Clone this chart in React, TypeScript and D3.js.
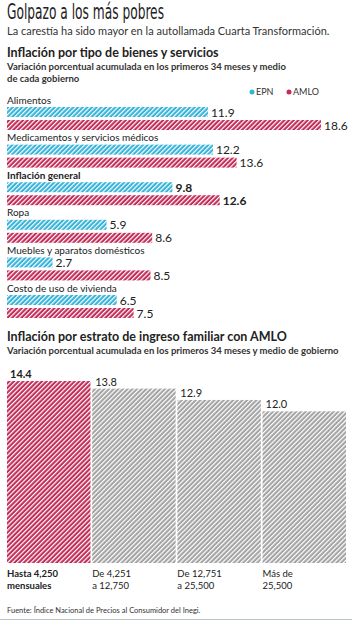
import * as d3 from "d3";

const categories = [
  "Alimentos",
  "Medicamentos y servicios médicos",
  "Inflación general",
  "Ropa",
  "Muebles y aparatos domésticos",
  "Costo de uso de vivienda",
];
const epn = [11.9, 12.2, 9.8, 5.9, 2.7, 6.5];
const amlo = [18.6, 13.6, 12.6, 8.6, 8.5, 7.5];

const strata = [
  ["Hasta 4,250", "mensuales"],
  ["De 4,251", "a 12,750"],
  ["De 12,751", "a 25,500"],
  ["Más de", "25,500"],
];
const strataValues = [14.4, 13.8, 12.9, 12.0];

const CYAN = "#35b3d9";
const CRIMSON = "#c32c58";
const GRAY = "#a3a3a3";
const FONT = "Lato, 'Open Sans', sans-serif";

export default function App() {
  const width = 352;
  const height = 620;

  // horizontal bars
  const x = d3.scaleLinear().domain([0, 18.6]).range([7, 321]);
  const rowY = d3.scaleLinear().domain([0, 5]).range([100, 288]);
  const barH = 10;

  // vertical bars
  const xb = d3
    .scaleBand()
    .domain(strata.map((d) => d.join(" ")))
    .range([7, 346])
    .paddingInner(0.02);
  const yb = d3.scaleLinear().domain([0, 14.4]).range([563, 381]);

  const pattern = (id: string, color: string) => (
    <pattern
      id={id}
      patternUnits="userSpaceOnUse"
      width={3.3}
      height={3.3}
      patternTransform="rotate(45)"
    >
      <rect width={3.3} height={3.3} fill={color} />
      <line x1={0.6} y1={0} x2={0.6} y2={3.3} stroke="#fff" strokeWidth={1.2} />
    </pattern>
  );

  return (
    <svg
      width={width}
      height={height}
      style={{ position: "absolute", left: 0, top: 0, background: "#fff" }}
      fontFamily={FONT}
    >
      <defs>
        {pattern("hCyan", CYAN)}
        {pattern("hCrimson", CRIMSON)}
        {pattern("hGray", GRAY)}
      </defs>

      <text
        x={7}
        y={19}
        fontFamily="'Liberation Sans Narrow', 'DejaVu Sans Condensed', sans-serif"
        fontSize={21}
        textLength={157}
        lengthAdjust="spacingAndGlyphs"
        fill="#222"
      >
        Golpazo a los más pobres
      </text>
      <text x={7} y={34.5} fontSize={11} fill="#333">
        La carestía ha sido mayor en la autollamada Cuarta Transformación.
      </text>

      <text x={7} y={57} fontSize={12.5} fontWeight="bold" fill="#222">
        Inflación por tipo de bienes y servicios
      </text>
      <text x={7} y={70} fontSize={9.5} fontWeight="bold" fill="#333">
        Variación porcentual acumulada en los primeros 34 meses y medio
      </text>
      <text x={7} y={82} fontSize={9.5} fontWeight="bold" fill="#333">
        de cada gobierno
      </text>

      <circle cx={252} cy={92} r={2.5} fill={CYAN} />
      <text x={256} y={95} fontSize={9} fill="#333">EPN</text>
      <circle cx={289} cy={92} r={2.5} fill={CRIMSON} />
      <text x={293} y={95} fontSize={9} fill="#333">AMLO</text>

      {categories.map((c, i) => {
        const y0 = rowY(i);
        const bold = c === "Inflación general";
        return (
          <g key={c}>
            <text
              x={7}
              y={y0 + 3.5}
              fontSize={10}
              fontWeight={bold ? "bold" : "normal"}
              fill="#222"
            >
              {c}
            </text>
            <rect
              x={x(0)}
              y={y0 + 7}
              width={x(epn[i]) - x(0)}
              height={barH}
              fill="url(#hCyan)"
            />
            <text
              x={x(epn[i]) + 3}
              y={y0 + 6.5 + barH}
              fontSize={12}
              fontWeight={bold ? "bold" : "normal"}
              fill="#222"
            >
              {epn[i].toFixed(1)}
            </text>
            <rect
              x={x(0)}
              y={y0 + 20}
              width={x(amlo[i]) - x(0)}
              height={barH}
              fill="url(#hCrimson)"
            />
            <text
              x={x(amlo[i]) + 3}
              y={y0 + 19.5 + barH}
              fontSize={12}
              fontWeight={bold ? "bold" : "normal"}
              fill="#222"
            >
              {amlo[i].toFixed(1)}
            </text>
          </g>
        );
      })}

      <text x={7} y={341} fontSize={12.5} fontWeight="bold" fill="#222">
        Inflación por estrato de ingreso familiar con AMLO
      </text>
      <text x={7} y={354} fontSize={9.5} fontWeight="bold" fill="#333">
        Variación porcentual acumulada en los primeros 34 meses y medio de gobierno
      </text>

      {strata.map((s, i) => {
        const key = s.join(" ");
        const bx = xb(key) as number;
        const first = i === 0;
        return (
          <g key={key}>
            <rect
              x={bx}
              y={yb(strataValues[i])}
              width={xb.bandwidth()}
              height={yb(0) - yb(strataValues[i])}
              fill={first ? "url(#hCrimson)" : "url(#hGray)"}
            />
            <text
              x={bx + 3}
              y={yb(strataValues[i]) - 3}
              fontSize={11}
              fontWeight={first ? "bold" : "normal"}
              fill="#222"
            >
              {strataValues[i].toFixed(1)}
            </text>
            {s.map((line, j) => (
              <text
                key={line}
                x={bx}
                y={577 + j * 12}
                fontSize={9.5}
                fontWeight={first ? "bold" : "normal"}
                fill="#222"
              >
                {line}
              </text>
            ))}
          </g>
        );
      })}

      <text x={7} y={613} fontSize={7.5} fill="#333">
        Fuente: Índice Nacional de Precios al Consumidor del Inegi.
      </text>
      <line x1={0} x2={width} y1={619.5} y2={619.5} stroke="#b9c6ca" strokeWidth={1} />
    </svg>
  );
}
